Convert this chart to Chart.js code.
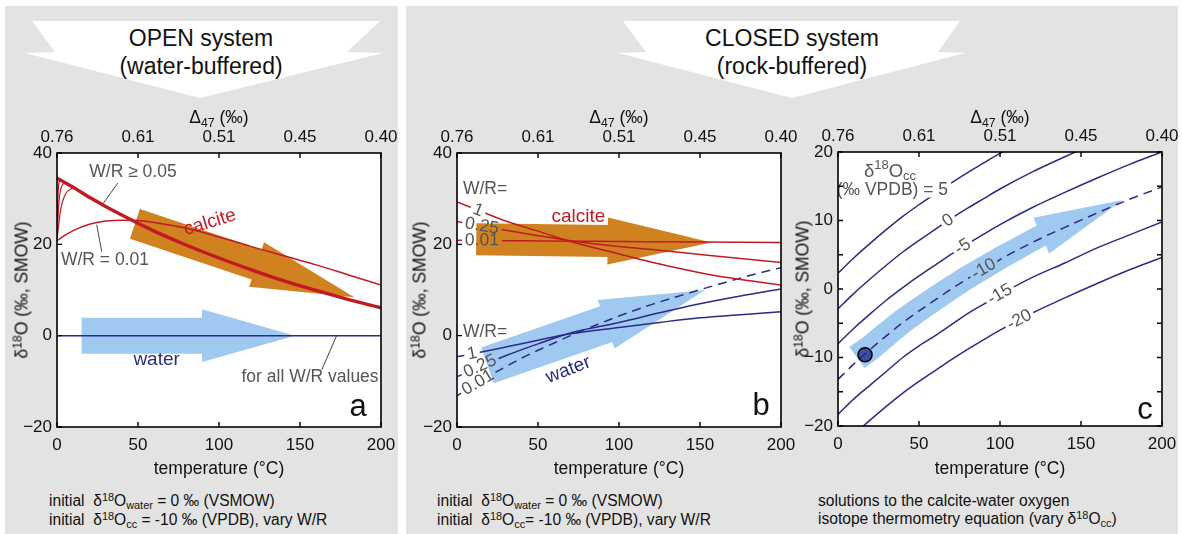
<!DOCTYPE html>
<html>
<head>
<meta charset="utf-8">
<title>Open vs closed system oxygen isotope exchange</title>
<script src="https://cdn.jsdelivr.net/npm/chart.js@4.4.1/dist/chart.umd.min.js"></script>
<style>
  body { margin: 0; width: 1182px; height: 534px; position: relative; overflow: hidden; background: #fff;
         font-family: "Liberation Sans", Arial, sans-serif; color: #111; }
  .panel { position: absolute; background: #e3e3e3; }
  .lbl { position: absolute; white-space: nowrap; transform: translate(-50%, -50%); font-size: 17.5px; }
  .ttl { position: absolute; white-space: nowrap; transform: translate(-50%, -50%); font-size: 23px; }
  .ylab { position: absolute; white-space: nowrap; transform: translate(-50%, -50%) rotate(-90deg); font-size: 17.5px; }
  .cap { position: absolute; white-space: nowrap; font-size: 15.6px; line-height: 18px; }
  sup, sub { font-size: 0.7em; vertical-align: 0; position: relative; }
  sup { top: -0.5em; }
  sub { top: 0.3em; }
  canvas { position: absolute; }
</style>
</head>
<body>
<div class="panel" style="left:5px;top:6px;width:393px;height:528px"></div>
<div class="panel" style="left:406px;top:6px;width:772px;height:528px"></div>
<svg width="1182" height="534" style="position:absolute;left:0;top:0">
  <polygon fill="#fff" points="32,21 380,21 347,52 383,53 200,98 25,53 55,52"/>
  <polygon fill="#fff" points="623,21 960,21 938,52 965,53 792,98 618,53 646,52"/>
</svg>

<canvas id="chartA" width="403" height="349" style="left:2px;top:118px"></canvas>
<canvas id="chartB" width="403" height="349" style="left:402px;top:118px"></canvas>
<canvas id="chartC" width="403" height="349" style="left:783px;top:117px"></canvas>

<div class="ttl" style="left:201px;top:38px">OPEN system</div>
<div class="ttl" style="left:201px;top:66px">(water-buffered)</div>
<div class="ttl" style="left:792px;top:38px">CLOSED system</div>
<div class="ttl" style="left:792px;top:66px">(rock-buffered)</div>

<div class="lbl" style="left:219px;top:117px">&Delta;<sub>47</sub> (&permil;)</div>
<div class="lbl" style="left:619px;top:117px">&Delta;<sub>47</sub> (&permil;)</div>
<div class="lbl" style="left:1000px;top:117px">&Delta;<sub>47</sub> (&permil;)</div>

<div class="lbl" style="left:219px;top:468px">temperature (&deg;C)</div>
<div class="lbl" style="left:619px;top:468px">temperature (&deg;C)</div>
<div class="lbl" style="left:1000px;top:468px">temperature (&deg;C)</div>

<div class="ylab" style="left:22px;top:290px">&delta;<sup>18</sup>O (&permil;, SMOW)</div>
<div class="ylab" style="left:420px;top:290px">&delta;<sup>18</sup>O (&permil;, SMOW)</div>
<div class="ylab" style="left:803px;top:289px">&delta;<sup>18</sup>O (&permil;, SMOW)</div>

<div class="cap" style="left:49px;top:492px">initial&nbsp; &delta;<sup>18</sup>O<sub>water</sub> = 0 &permil; (VSMOW)<br>initial&nbsp; &delta;<sup>18</sup>O<sub>cc</sub> = -10 &permil; (VPDB), vary W/R</div>
<div class="cap" style="left:437px;top:492px">initial&nbsp; &delta;<sup>18</sup>O<sub>water</sub> = 0 &permil; (VSMOW)<br>initial&nbsp; &delta;<sup>18</sup>O<sub>cc</sub>= -10 &permil; (VPDB), vary W/R</div>
<div class="cap" style="left:818px;top:492px">solutions to the calcite-water oxygen<br>isotope thermometry equation (vary &delta;<sup>18</sup>O<sub>cc</sub>)</div>

<script>
// axis ticks
const tempTicks = [0, 50, 100, 150, 200]
const d47Labels = ['0.76', '0.61', '0.51', '0.45', '0.40']
const yTicksAB = [-20, 0, 20, 40]
const yTicksC = [-20, -15, -10, -5, 0, 5, 10, 15, 20]

// panel a: open system
const tempA = [0, 2, 4, 6, 8, 10, 15, 20, 30, 40, 50, 60, 70, 80, 100, 120, 140, 160, 180, 200]
const calciteOpenA = [34.5, 34.1, 33.7, 33.3, 32.9, 32.5, 31.4, 30.3, 28.3, 26.4, 24.6, 22.9, 21.3, 19.8, 17.0, 14.4, 12.0, 9.9, 7.9, 6.1]
const tempFastA = [0, 0.5, 1, 2, 3, 4, 6, 8, 10, 14]
const calciteWR005A = [20.8, 22.5, 24.2, 27.0, 28.8, 30.0, 31.4, 32.0, 32.3, 31.6]
const calciteWR010A = [20.8, 25.0, 28.5, 31.6, 32.8, 33.3, 33.3, 32.9, 32.5, 31.6]
const calciteWR050A = [20.8, 29.5, 33.0, 34.0, 33.9, 33.7, 33.3, 32.9, 32.5, 31.6]
const tempLowWRA = [0, 5, 10, 20, 30, 40, 50, 60, 80, 100, 120, 140, 160, 180, 200]
const calciteWR001A = [20.8, 22.0, 23.0, 24.4, 25.1, 25.3, 25.2, 24.8, 23.5, 21.6, 19.5, 17.5, 15.5, 13.3, 11.1]
const tempWaterA = [0, 200]
const waterA = [0, 0]
const leaderWR005A = [[28.6, 29.0], [37.5, 33.4]]
const leaderWR001A = [[24.5, 24.3], [27.6, 18.4]]
const leaderAllA = [[163.4, -7.5], [172.6, 0]]
const calciteArrowA = [[48.1, 24.5], [183.5, 8.4]]
const waterArrowA = [[15.2, 0], [146.9, 0]]

// panel b: closed system, vary W/R
const tempB = [0, 15, 30, 50, 70, 100, 125, 150, 175, 200]
const calciteWR1B = [29.3, 27.2, 25.1, 22.9, 20.6, 17.9, 15.7, 13.8, 12.3, 11.1]
const calciteWR025B = [25.0, 24.0, 23.1, 21.9, 20.8, 19.5, 18.7, 17.8, 16.9, 16.0]
const calciteWR001B = [20.9, 20.85, 20.8, 20.75, 20.7, 20.6, 20.55, 20.5, 20.45, 20.4]
const waterWR1B = [-4.6, -3.6, -2.5, -1.0, 0.4, 1.8, 2.9, 3.9, 4.6, 5.25]
const waterWR025B = [-9.0, -6.6, -4.4, -1.8, 0.6, 2.9, 5.0, 7.0, 8.7, 10.2]
const calciteArrowB = [[11.9, 21.1], [157.2, 20.4]]
const waterArrowB = [[18.8, -6.5], [153.1, 10.0]]

// panel c: water in equilibrium with calcite of given d18O (VPDB)
const tempC = [0, 10, 20, 30, 40, 50, 60, 70, 80, 90, 100, 120, 140, 160, 180, 200]
const waterCC5 = [2.3, 4.6, 6.7, 8.7, 10.6, 12.3, 13.9, 15.5, 17.0, 18.4, 19.8, 22.3, 24.5, 26.6, 28.6, 30.4]
const waterCC0 = [-2.9, -0.6, 1.5, 3.5, 5.4, 7.1, 8.7, 10.3, 11.8, 13.2, 14.6, 17.1, 19.3, 21.4, 23.4, 25.2]
const waterCCm5 = [-8.0, -5.7, -3.6, -1.6, 0.2, 1.9, 3.5, 5.1, 6.6, 8.0, 9.4, 11.9, 14.1, 16.2, 18.2, 20.0]
const waterCCm10 = [-13.2, -10.9, -8.8, -6.8, -4.9, -3.2, -1.6, 0.0, 1.5, 2.9, 4.3, 6.8, 9.0, 11.1, 13.1, 14.9]
const waterCCm15 = [-18.3, -16.0, -14.0, -12.0, -10.0, -8.3, -6.8, -5.2, -3.6, -2.2, -0.8, 1.7, 3.8, 6.0, 7.9, 9.8]
const waterCCm20 = [-23.5, -21.2, -19.1, -17.1, -15.2, -13.5, -11.9, -10.3, -8.8, -7.4, -6.0, -3.5, -1.3, 0.8, 2.8, 4.6]
const startPointC = [[16.7, -9.6]]
const waterPathC = [[11.7, -10.0], [20, -8.6], [30, -6.6], [40, -4.7], [50, -3.0], [60, -1.4], [70, 0.2], [80, 1.7], [90, 3.1], [100, 4.5], [110, 5.8], [125.5, 7.8], [175.7, 13.0]]

const FONT = '"Liberation Sans", Arial, sans-serif'
const RED = '#c21a25'
const NAVY = '#2b2a86'
const GRAY = '#555555'
const ORANGE = '#cf821f'
const LBLUE = '#9fc9f0'

Chart.defaults.font.family = FONT
Chart.defaults.font.size = 17
Chart.defaults.color = '#111'

function pts(xs, ys) {
  return xs.map((x, i) => ({ x: x, y: ys[i] }))
}
function pairs(list) {
  return list.map(p => ({ x: p[0], y: p[1] }))
}
function line(key, data, color, width, dash) {
  return {
    key: key, data: data, borderColor: color, borderWidth: width || 1.5, borderDash: dash || [],
    pointRadius: 0, fill: false, cubicInterpolationMode: 'monotone'
  }
}
function minus(v) {
  return v < 0 ? '\u2212' + Math.abs(v) : String(v)
}

function px(chart, p) {
  return [chart.scales.x.getPixelForValue(p[0]), chart.scales.y.getPixelForValue(p[1])]
}

// point on a dataset at x = t, with the local slope angle in pixels
function onLine(chart, key, t) {
  const pts = chart.data.datasets.find(d => d.key === key).data
  let i = 0
  while (i < pts.length - 2 && pts[i + 1].x < t) i++
  const a = pts[i], b = pts[i + 1]
  const v = a.y + (t - a.x) / (b.x - a.x) * (b.y - a.y)
  const p0 = px(chart, [a.x, a.y]), p1 = px(chart, [b.x, b.y])
  const p = px(chart, [t, v])
  return { x: p[0], y: p[1], ang: Math.atan2(p1[1] - p0[1], p1[0] - p0[0]) }
}

function textWidth(ctx, l, size) {
  if (!l.parts) {
    ctx.font = size + 'px ' + FONT
    return ctx.measureText(l.text).width
  }
  let w = 0
  l.parts.forEach(p => {
    ctx.font = (p.sup || p.sub ? size * 0.7 : size) + 'px ' + FONT
    w += ctx.measureText(p.s).width
  })
  return w
}

function layoutLabels(chart, list) {
  return list.map(l => {
    let x, y, ang = (l.angle || 0) * Math.PI / 180
    if (l.on) {
      const p = onLine(chart, l.on, l.t)
      x = p.x
      y = p.y
      if (l.follow) ang = p.ang
    } else {
      [x, y] = px(chart, l.at)
    }
    const size = l.size || 17.5
    return Object.assign({}, l, { x: x, y: y, ang: ang, size: size, w: textWidth(chart.ctx, l, size) })
  })
}

function drawLabel(ctx, l) {
  ctx.save()
  ctx.translate(l.x, l.y)
  ctx.rotate(l.ang)
  ctx.fillStyle = l.color || '#111'
  ctx.textBaseline = 'middle'
  if (!l.parts) {
    ctx.font = l.size + 'px ' + FONT
    ctx.textAlign = 'center'
    ctx.fillText(l.text, 0, 0)
  } else {
    let x = -l.w / 2
    ctx.textAlign = 'left'
    l.parts.forEach(p => {
      const s = p.sup || p.sub ? l.size * 0.7 : l.size
      ctx.font = s + 'px ' + FONT
      const dy = p.sup ? -l.size * 0.35 : p.sub ? l.size * 0.25 : 0
      ctx.fillText(p.s, x, dy)
      x += ctx.measureText(p.s).width
    })
  }
  ctx.restore()
}

function drawArrow(ctx, p0, p1, sh, hh, hl, color) {
  const dx = p1[0] - p0[0], dy = p1[1] - p0[1], L = Math.hypot(dx, dy)
  const ux = dx / L, uy = dy / L, nx = -uy, ny = ux
  const bx = p1[0] - ux * hl, by = p1[1] - uy * hl
  ctx.beginPath()
  ctx.moveTo(p0[0] + nx * sh, p0[1] + ny * sh)
  ctx.lineTo(bx + nx * sh, by + ny * sh)
  ctx.lineTo(bx + nx * hh, by + ny * hh)
  ctx.lineTo(p1[0], p1[1])
  ctx.lineTo(bx - nx * hh, by - ny * hh)
  ctx.lineTo(bx - nx * sh, by - ny * sh)
  ctx.lineTo(p0[0] - nx * sh, p0[1] - ny * sh)
  ctx.closePath()
  ctx.fillStyle = color
  ctx.fill()
}

// curved arrow: shaft follows the path, last point is the tip
function drawBentArrow(ctx, P, b) {
  const n = P.length, tip = P[n - 1], base = P[n - 2]
  const left = [], right = []
  for (let i = 0; i < n - 1; i++) {
    const a = P[Math.max(i - 1, 0)], c = i === n - 2 ? tip : P[i + 1]
    let tx = c[0] - a[0], ty = c[1] - a[1]
    const L = Math.hypot(tx, ty)
    tx /= L
    ty /= L
    const hw = b.tail + (b.shaft - b.tail) * i / (n - 2)
    left.push([P[i][0] - ty * hw, P[i][1] + tx * hw])
    right.push([P[i][0] + ty * hw, P[i][1] - tx * hw])
  }
  let hx = tip[0] - base[0], hy = tip[1] - base[1]
  const HL = Math.hypot(hx, hy)
  hx /= HL
  hy /= HL
  ctx.beginPath()
  left.forEach((p, i) => (i ? ctx.lineTo(p[0], p[1]) : ctx.moveTo(p[0], p[1])))
  ctx.lineTo(base[0] - hy * b.head, base[1] + hx * b.head)
  ctx.lineTo(tip[0], tip[1])
  ctx.lineTo(base[0] + hy * b.head, base[1] - hx * b.head)
  right.reverse().forEach(p => ctx.lineTo(p[0], p[1]))
  ctx.closePath()
  ctx.fillStyle = b.color
  ctx.fill()
}

const deco = {
  id: 'deco',
  beforeDraw(chart) {
    const a = chart.chartArea, ctx = chart.ctx
    ctx.save()
    ctx.fillStyle = '#fff'
    ctx.fillRect(a.left, a.top, a.right - a.left, a.bottom - a.top)
    ctx.restore()
  },
  beforeDatasetsDraw(chart, args, o) {
    const ctx = chart.ctx
    chart.$labels = layoutLabels(chart, o.labels || [])
    ctx.save()
    ;(o.arrows || []).forEach(a => drawArrow(ctx, px(chart, a.tail), px(chart, a.tip), a.shaft, a.head, a.headLen, a.color))
    if (o.bent) drawBentArrow(ctx, o.bent.path.map(p => px(chart, p)), o.bent)
    ctx.restore()
  },
  // break a line where a label sits on it (contour-label style)
  beforeDatasetDraw(chart, args) {
    const key = chart.data.datasets[args.index].key
    const gaps = (chart.$labels || []).filter(l => l.gap && l.gap === key)
    if (!gaps.length) return
    const ctx = chart.ctx
    ctx.save()
    ctx.beginPath()
    ctx.rect(0, 0, chart.width, chart.height)
    gaps.forEach(l => {
      const hw = l.w / 2 + 3, hh = l.size * 0.45
      const c = Math.cos(l.ang), s = Math.sin(l.ang)
      const corners = [[-hw, -hh], [hw, -hh], [hw, hh], [-hw, hh]]
      corners.forEach((k, i) => {
        const x = l.x + k[0] * c - k[1] * s, y = l.y + k[0] * s + k[1] * c
        i ? ctx.lineTo(x, y) : ctx.moveTo(x, y)
      })
      ctx.closePath()
    })
    ctx.clip('evenodd')
    chart.$clipped = true
  },
  afterDatasetDraw(chart) {
    if (chart.$clipped) {
      chart.ctx.restore()
      chart.$clipped = false
    }
  },
  afterDatasetsDraw(chart, args, o) {
    const ctx = chart.ctx, a = chart.chartArea
    ;(chart.$labels || []).forEach(l => drawLabel(ctx, l))

    // box and inward ticks
    ctx.save()
    ctx.strokeStyle = '#000'
    ctx.lineWidth = 1.6
    ctx.strokeRect(a.left, a.top, a.right - a.left, a.bottom - a.top)
    ctx.lineWidth = 1.4
    ctx.beginPath()
    const tl = 5
    chart.scales.x.ticks.forEach(t => {
      const x = chart.scales.x.getPixelForValue(t.value)
      ctx.moveTo(x, a.bottom)
      ctx.lineTo(x, a.bottom - tl)
      ctx.moveTo(x, a.top)
      ctx.lineTo(x, a.top + tl)
    })
    chart.scales.y.ticks.forEach(t => {
      const y = chart.scales.y.getPixelForValue(t.value)
      ctx.moveTo(a.left, y)
      ctx.lineTo(a.left + tl, y)
      if (o.rightTicks) {
        ctx.moveTo(a.right, y)
        ctx.lineTo(a.right - tl, y)
      }
    })
    ctx.stroke()
    ctx.restore()
  }
}

function scales(yTicks) {
  const off = { display: false, drawTicks: false }
  return {
    x: {
      type: 'linear', position: 'bottom', min: 0, max: 200,
      afterBuildTicks: s => { s.ticks = tempTicks.map(v => ({ value: v })) },
      ticks: { padding: 8, maxRotation: 0, autoSkip: false },
      grid: off, border: { display: false },
      afterFit: s => { s.height = 40 }
    },
    x2: {
      type: 'linear', position: 'top', min: 0, max: 200,
      afterBuildTicks: s => { s.ticks = tempTicks.map(v => ({ value: v })) },
      ticks: { padding: 5, maxRotation: 0, autoSkip: false, callback: (v, i) => d47Labels[i] },
      grid: off, border: { display: false },
      afterFit: s => { s.height = 35 }
    },
    y: {
      type: 'linear', min: yTicks[0], max: yTicks[yTicks.length - 1],
      afterBuildTicks: s => { s.ticks = yTicks.map(v => ({ value: v })) },
      ticks: { padding: 5, autoSkip: false, callback: v => (v % 10 === 0 ? minus(v) : '') },
      grid: off, border: { display: false },
      afterFit: s => { s.width = 55 }
    }
  }
}

function makeChart(id, datasets, yTicks, deco_opts) {
  return new Chart(document.getElementById(id), {
    type: 'line',
    data: { datasets: datasets },
    options: {
      responsive: false, animation: false, devicePixelRatio: 1,
      layout: { padding: { right: 24 } },
      scales: scales(yTicks),
      plugins: { legend: { display: false }, tooltip: { enabled: false }, deco: deco_opts }
    },
    plugins: [deco]
  })
}

// panel a
makeChart('chartA', [
  line('cOpen', pts(tempA, calciteOpenA), RED, 3.4),
  line('c005', pts(tempFastA, calciteWR005A), RED, 1.2),
  line('c010', pts(tempFastA, calciteWR010A), RED, 1.2),
  line('c050', pts(tempFastA, calciteWR050A), RED, 1.2),
  line('c001', pts(tempLowWRA, calciteWR001A), RED, 1.5),
  line('w', pts(tempWaterA, waterA), NAVY, 1.5),
  Object.assign(line('ld1', pairs(leaderWR005A), '#444', 1), { cubicInterpolationMode: 'default' }),
  Object.assign(line('ld2', pairs(leaderWR001A), '#444', 1), { cubicInterpolationMode: 'default' }),
  Object.assign(line('ld3', pairs(leaderAllA), '#444', 1), { cubicInterpolationMode: 'default' })
], yTicksAB, {
  arrows: [
    { tail: calciteArrowA[0], tip: calciteArrowA[1], shaft: 15.7, head: 23.5, headLen: 103, color: ORANGE },
    { tail: waterArrowA[0], tip: waterArrowA[1], shaft: 18, head: 26.3, headLen: 93, color: LBLUE }
  ],
  labels: [
    { text: 'W/R \u2265 0.05', at: [46.9, 35.8], color: GRAY },
    { text: 'W/R = 0.01', at: [29.6, 16.6], color: GRAY },
    { text: 'calcite', at: [94.4, 24.8], color: RED, size: 19, angle: -17 },
    { text: 'water', at: [61.5, -5.3], color: NAVY, size: 19 },
    { text: 'for all W/R values', at: [156.2, -9.05], color: GRAY },
    { text: 'a', at: [185.8, -15.8], color: '#111', size: 31 }
  ]
})

// panel b
makeChart('chartB', [
  line('cWR1', pts(tempB, calciteWR1B), RED),
  line('cWR025', pts(tempB, calciteWR025B), RED),
  line('cWR001', pts(tempB, calciteWR001B), RED),
  line('wWR1', pts(tempB, waterWR1B), NAVY),
  line('wWR025', pts(tempB, waterWR025B), NAVY),
  line('wWR001', pts(tempC, waterCCm10), NAVY, 1.5, [9, 6])
], yTicksAB, {
  arrows: [
    { tail: calciteArrowB[0], tip: calciteArrowB[1], shaft: 16, head: 23.5, headLen: 104, color: ORANGE },
    { tail: waterArrowB[0], tip: waterArrowB[1], shaft: 18.9, head: 25.6, headLen: 104.6, color: LBLUE }
  ],
  labels: [
    { text: 'W/R=', at: [17.3, 32.1], color: GRAY },
    { text: 'W/R=', at: [17.3, 0.8], color: GRAY },
    { text: '1', on: 'cWR1', t: 13, gap: 'cWR1', follow: true, color: GRAY },
    { text: '0.25', on: 'cWR025', t: 15.4, gap: 'cWR025', follow: true, color: GRAY },
    { text: '0.01', on: 'cWR001', t: 15.4, gap: 'cWR001', follow: true, color: GRAY },
    { text: '1', on: 'wWR1', t: 9.3, gap: 'wWR1', follow: true, color: GRAY },
    { text: '0.25', on: 'wWR025', t: 14.2, gap: 'wWR025', follow: true, color: GRAY },
    { text: '0.01', on: 'wWR001', t: 13, gap: 'wWR001', follow: true, color: GRAY },
    { text: 'calcite', at: [74.9, 26.1], color: RED, size: 19 },
    { text: 'water', at: [68.7, -7.5], color: NAVY, size: 19, angle: -21 },
    { text: 'b', at: [187.7, -15.5], color: '#111', size: 31 }
  ]
})

// panel c
makeChart('chartC', [
  line('cc5', pts(tempC, waterCC5), NAVY),
  line('cc0', pts(tempC, waterCC0), NAVY),
  line('ccm5', pts(tempC, waterCCm5), NAVY),
  line('ccm10', pts(tempC, waterCCm10), NAVY, 1.5, [9, 6]),
  line('ccm15', pts(tempC, waterCCm15), NAVY),
  line('ccm20', pts(tempC, waterCCm20), NAVY),
  {
    key: 'start', data: pairs(startPointC), showLine: false, pointRadius: 7,
    pointBackgroundColor: '#3a4f9f', pointBorderColor: '#000', pointBorderWidth: 1.5
  }
], yTicksC, {
  rightTicks: true,
  bent: { path: waterPathC, tail: 13, shaft: 11, head: 19.5, color: LBLUE },
  labels: [
    { parts: [{ s: '\u03b4' }, { s: '18', sup: true }, { s: 'O' }, { s: 'cc', sub: true }], at: [32.1, 17.1], color: GRAY, size: 18.5 },
    { text: '(\u2030 VPDB) = 5', at: [33.6, 14.5], gap: 'cc5', color: GRAY },
    { text: '0', on: 'cc0', t: 68, gap: 'cc0', follow: true, color: GRAY },
    { text: '-5', on: 'ccm5', t: 77, gap: 'ccm5', follow: true, color: GRAY },
    { text: '-10', on: 'ccm10', t: 90, gap: 'ccm10', follow: true, color: GRAY },
    { text: '-15', on: 'ccm15', t: 100, gap: 'ccm15', follow: true, color: GRAY },
    { text: '-20', on: 'ccm20', t: 112, gap: 'ccm20', follow: true, color: GRAY },
    { text: 'c', at: [189.5, -17.7], color: '#111', size: 31 }
  ]
})
</script>
</body>
</html>
